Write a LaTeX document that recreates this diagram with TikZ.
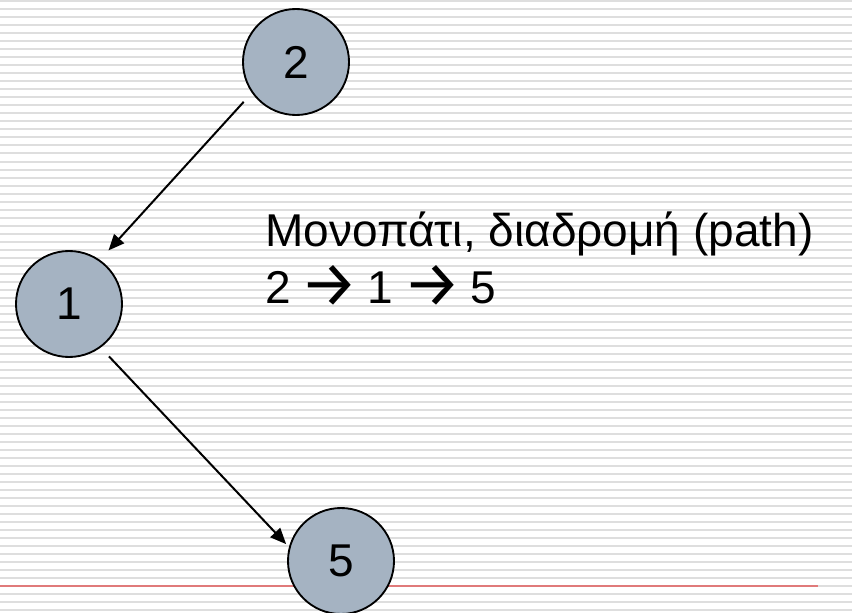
\documentclass[tikz,border=0pt]{standalone}
\usepackage{fontspec}
\setmainfont{Liberation Sans}
\newfontfamily\arrowfont{Fira Sans}
\newcommand{\rarr}{\kern-0.07em{\arrowfont\raisebox{-0.07em}{\scalebox{1.4}{→}}}\kern-0.07em}
\usepackage{xcolor}
\definecolor{nodefill}{HTML}{A5B3C2}
\definecolor{ruling}{HTML}{DEDEDE}
\definecolor{redrule}{HTML}{E07A7A}
\usetikzlibrary{arrows.meta}
\tikzset{
  >={Triangle[length=12pt,width=10pt]},
  vertex/.style={circle,draw=black,line width=1.4pt,fill=nodefill,minimum size=79.5pt,inner sep=0pt,font=\fontsize{34.5}{42}\selectfont},
  lbl/.style={anchor=base west,inner sep=0pt,font=\fontsize{34.5}{42}\selectfont},
  arr/.style={->,draw=black,line width=1.5pt},
  rule/.style={draw=ruling,line width=1.5pt},
}
\begin{document}
\begin{tikzpicture}[x=0.75pt,y=-0.75pt]
\useasboundingbox (0,0) rectangle (852,613);
% lined paper background
\fill[white] (0,0) rectangle (852,613);
\foreach \k in {0,...,76}{ \draw[rule] (0,1.5+8*\k) -- (852,1.5+8*\k); }
\draw[redrule,line width=1.5pt] (0,585.5) -- (818,585.5);
% graph
\node[vertex] (n2) at (296,62) {2};
\node[vertex] (n1) at (69,304) {1};
\node[vertex] (n5) at (341,561) {5};
\draw[arr,shorten <=9pt,shorten >=9.5pt] (n2.215) -- (n1.55);
\draw[arr,shorten <=9pt,shorten >=3pt] (n1.306) -- (n5.165);
% caption
\node[lbl] (title) at (265,246) {Μονοπάτι, διαδρομή (path)};
\node[lbl] (route) at (265,303) {2 \rarr{} 1 \rarr{} 5};
\end{tikzpicture}
\end{document}
